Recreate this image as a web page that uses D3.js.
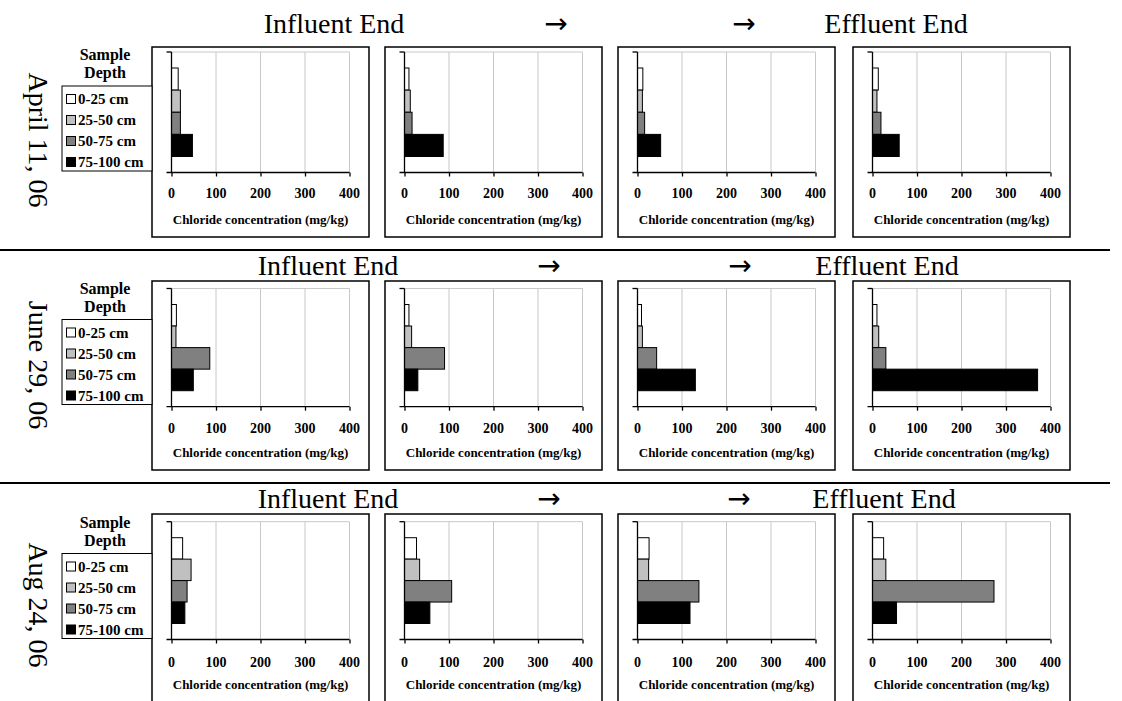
<!DOCTYPE html>
<html>
<head>
<meta charset="utf-8">
<script src="https://cdn.jsdelivr.net/npm/d3@7"></script>
<style>
  html, body { margin: 0; padding: 0; background: #fff; }
  svg { display: block; }
  text { font-family: "Liberation Serif", "Times New Roman", serif; fill: #000; }
</style>
</head>
<body>
<svg id="chart" width="1122" height="701"></svg>
<script>
// ---------- data ----------
const depths = ["0-25 cm", "25-50 cm", "50-75 cm", "75-100 cm"];
const dates = ["April 11, 06", "June 29, 06", "Aug 24, 06"];
const xTicks = [0, 100, 200, 300, 400];
const headerTexts = ["Influent End", "\u2192", "\u2192", "Effluent End"];
const axisTitle = "Chloride concentration (mg/kg)";
// chloride (mg/kg) per panel (influent -> effluent), per depth
const april = [[15, 20, 20, 47], [10, 13, 17, 87], [12, 11, 16, 52], [13, 10, 19, 60]];
const june  = [[11, 10, 86, 49], [10, 16, 90, 30], [9, 11, 43, 130], [10, 14, 30, 371]];
const aug   = [[25, 44, 35, 30], [27, 34, 106, 57], [26, 25, 138, 118], [25, 30, 273, 54]];
const seriesByDate = [april, june, aug];

// ---------- styles / layout ----------
const fills = ["#ffffff", "#c0c0c0", "#808080", "#000000"];
const panelLeft = [152, 385, 618, 853];
const panelWidth = 217;
const plotOffset = 19.5, plotWidth = 178;
const rows = [
  { titleBase: 33,  titleX: [334, 556, 744, 896], boxTop: 47,  box1Top: 47,  plotTop: 52,  plotBottom: 172.5, tickBase: 198, axisBase: 223.5, boxBottom: 237, legendTop: 86,  labelY: 140 },
  { titleBase: 275, titleX: [328, 549, 740, 887], boxTop: 281, box1Top: 281, plotTop: 288.5, plotBottom: 406.7, tickBase: 433, axisBase: 456.5, boxBottom: 470, legendTop: 319.5, labelY: 365 },
  { titleBase: 508, titleX: [328, 549, 739, 884], boxTop: 514, box1Top: 514, plotTop: 521.7, plotBottom: 639.5, tickBase: 666.5, axisBase: 688.5, boxBottom: 704, legendTop: 553.5, labelY: 605 }
];
const separators = [250, 483];

const svg = d3.select("#chart");

// separators
svg.selectAll("line.sep").data(separators).enter().append("line")
  .attr("x1", 0).attr("x2", 1110).attr("y1", d => d).attr("y2", d => d)
  .attr("stroke", "#000").attr("stroke-width", 2);

rows.forEach((r, ri) => {
  const g = svg.append("g");
  // header texts
  headerTexts.forEach((t, i) => {
    g.append("text").attr("x", r.titleX[i]).attr("y", r.titleBase)
      .attr("text-anchor", "middle")
      .style("font-size", "28px")
      .style("font-family", t === "\u2192" ? "'DejaVu Sans', sans-serif" : null)
      .text(t);
  });
  // rotated date label
  g.append("text")
    .attr("transform", `translate(29,${r.labelY}) rotate(90)`)
    .attr("text-anchor", "middle")
    .style("font-size", "28px")
    .text(dates[ri]);

  // panels
  seriesByDate[ri].forEach((vals, pi) => {
    const bx = panelLeft[pi];
    const top = pi === 0 ? r.box1Top : r.boxTop;
    g.append("rect").attr("x", bx).attr("y", top)
      .attr("width", panelWidth).attr("height", r.boxBottom - top)
      .attr("fill", "#fff").attr("stroke", "#000").attr("stroke-width", 1.5);

    const x0 = bx + plotOffset;
    const x = d3.scaleLinear().domain([0, 400]).range([x0, x0 + plotWidth]);
    const y = d3.scaleBand().domain(depths)
      .range([r.plotTop + 16, r.plotBottom - 16]).padding(0);

    // gridlines
    g.selectAll(null).data(xTicks.slice(1)).enter().append("line")
      .attr("x1", d => x(d)).attr("x2", d => x(d))
      .attr("y1", r.plotTop).attr("y2", r.plotBottom)
      .attr("stroke", "#c8c8c8").attr("stroke-width", 1);
    // plot top border
    g.append("line").attr("x1", x(0)).attr("x2", x(400))
      .attr("y1", r.plotTop).attr("y2", r.plotTop)
      .attr("stroke", "#c8c8c8").attr("stroke-width", 1);

    // bars
    g.selectAll(null).data(vals).enter().append("rect")
      .attr("x", x(0)).attr("y", (d, i) => y(depths[i]))
      .attr("width", d => x(d) - x(0)).attr("height", y.bandwidth())
      .attr("fill", (d, i) => fills[i]).attr("stroke", "#000").attr("stroke-width", 1);

    // x axis
    const xa = g.append("g").attr("transform", `translate(0,${r.plotBottom})`)
      .call(d3.axisBottom(x).tickValues(xTicks).tickSize(4).tickFormat(""));
    xa.select(".domain").remove();
    xa.selectAll(".tick line").attr("stroke", "#000").attr("stroke-width", 1.3);
    g.append("line").attr("x1", x(0) - 5).attr("x2", x(400))
      .attr("y1", r.plotBottom).attr("y2", r.plotBottom)
      .attr("stroke", "#000").attr("stroke-width", 1.3);
    g.selectAll(null).data(xTicks).enter().append("text")
      .attr("x", d => x(d)).attr("y", r.tickBase)
      .attr("text-anchor", "middle")
      .style("font-size", "14px").style("font-weight", "bold")
      .text(d => d);
    // y axis line with end ticks
    g.append("line").attr("x1", x(0)).attr("x2", x(0))
      .attr("y1", r.plotTop).attr("y2", r.plotBottom)
      .attr("stroke", "#000").attr("stroke-width", 1.3);
    g.append("line").attr("x1", x(0) - 5).attr("x2", x(0))
      .attr("y1", r.plotTop).attr("y2", r.plotTop)
      .attr("stroke", "#000").attr("stroke-width", 1.3);

    // axis title
    g.append("text").attr("x", x(200)).attr("y", r.axisBase)
      .attr("text-anchor", "middle")
      .style("font-size", "13px").style("font-weight", "bold")
      .text(axisTitle);
  });

  // legend
  const lg = g.append("g");
  lg.append("text").attr("x", 105).attr("y", r.legendTop - 26)
    .attr("text-anchor", "middle").style("font-size", "16px").style("font-weight", "bold")
    .text("Sample");
  lg.append("text").attr("x", 105).attr("y", r.legendTop - 8)
    .attr("text-anchor", "middle").style("font-size", "16px").style("font-weight", "bold")
    .text("Depth");
  lg.append("rect").attr("x", 62).attr("y", r.legendTop).attr("width", 90).attr("height", 85)
    .attr("fill", "#fff").attr("stroke", "#000").attr("stroke-width", 1);
  depths.forEach((d, i) => {
    const cy = r.legendTop + 13 + i * 21;
    lg.append("rect").attr("x", 66.5).attr("y", cy - 4.5).attr("width", 9).attr("height", 9)
      .attr("fill", fills[i]).attr("stroke", "#000").attr("stroke-width", 1);
    lg.append("text").attr("x", 78).attr("y", cy + 5)
      .style("font-size", "15px").style("font-weight", "bold").text(d);
  });
});
</script>
</body>
</html>
